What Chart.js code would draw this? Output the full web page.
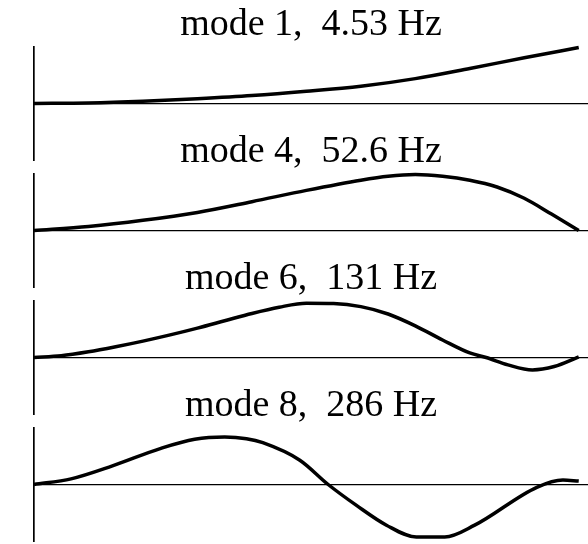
<!DOCTYPE html>
<html>
<head>
<meta charset="utf-8">
<script src="https://cdn.jsdelivr.net/npm/chart.js@4/dist/chart.umd.min.js"></script>
<style>
  html, body { margin: 0; padding: 0; background: #ffffff; }
  #wrap { position: relative; width: 588px; height: 544px; overflow: hidden; background: #ffffff; }
  .panel { position: absolute; left: 0; width: 588px; height: 162px; }
</style>
</head>
<body>
<div id="wrap">
  <canvas class="panel" id="c0" width="588" height="162" style="top:0px"></canvas>
  <canvas class="panel" id="c1" width="588" height="162" style="top:127px"></canvas>
  <canvas class="panel" id="c2" width="588" height="162" style="top:254px"></canvas>
  <canvas class="panel" id="c3" width="588" height="162" style="top:381px"></canvas>
</div>
<script>
// ---- data (normalised position along the beam, normalised mode amplitude) ----
const TITLES = ["mode 1,  4.53 Hz", "mode 4,  52.6 Hz", "mode 6,  131 Hz", "mode 8,  286 Hz"];

const xMode1 = [0, 0.1, 0.2, 0.3, 0.4, 0.5, 0.6, 0.7, 0.8, 0.9, 1.0];
const yMode1 = [0, 0.01, 0.04, 0.085, 0.14, 0.215, 0.305, 0.44, 0.62, 0.81, 0.99];

const xMode4 = [0, 0.1, 0.2, 0.3, 0.4, 0.5, 0.6, 0.65, 0.7, 0.75, 0.8, 0.85, 0.9, 0.95, 1.0];
const yMode4 = [0, 0.07, 0.18, 0.32, 0.51, 0.71, 0.89, 0.96, 0.99, 0.96, 0.89, 0.77, 0.57, 0.29, 0];

const xMode6 = [0, 0.05, 0.1, 0.15, 0.2, 0.25, 0.3, 0.35, 0.4, 0.45, 0.5, 0.55, 0.6, 0.65, 0.7, 0.75, 0.8, 0.83, 0.87, 0.915, 0.955, 1.0];
const yMode6 = [0, 0.03, 0.10, 0.19, 0.29, 0.40, 0.52, 0.65, 0.78, 0.89, 0.96, 0.955, 0.90, 0.77, 0.56, 0.31, 0.08, 0, -0.13, -0.22, -0.16, 0.01];

const xMode8 = [0, 0.068, 0.144, 0.233, 0.295, 0.35, 0.39, 0.42, 0.488, 0.54, 0.592, 0.647, 0.702, 0.754, 0.809, 0.923, 0.971, 1.0];
const yMode8 = [0, 0.10, 0.33, 0.64, 0.80, 0.84, 0.81, 0.74, 0.43, 0.0, -0.37, -0.72, -0.93, -0.93, -0.72, -0.05, 0.08, 0.06];

const X_MAX = 1.017;   // axis extends a little beyond the beam tip
const Y_LIM = 1;

const SERIES = [[xMode1, yMode1], [xMode4, yMode4], [xMode6, yMode6], [xMode8, yMode8]];

function makeChart(i) {
  const [xs, ys] = SERIES[i];
  const pts = xs.map((x, k) => ({ x: x, y: ys[k] }));
  return new Chart(document.getElementById('c' + i), {
    type: 'line',
    data: {
      datasets: [{
        data: pts,
        borderColor: '#000000',
        borderWidth: 3.5,
        pointRadius: 0,
        fill: false,
        cubicInterpolationMode: 'monotone',
        clip: false
      }]
    },
    options: {
      responsive: false,
      animation: false,
      events: [],
      layout: { padding: { left: 34, right: 0, top: 0, bottom: 2 } },
      plugins: {
        legend: { display: false },
        tooltip: { enabled: false },
        title: {
          display: true,
          text: TITLES[i],
          fullSize: false,
          align: 'center',
          color: '#000000',
          font: { family: '"Liberation Serif", "Times New Roman", serif', size: 38, weight: 'normal', lineHeight: 1.1 },
          padding: { top: 4, bottom: 1.2 }
        }
      },
      scales: {
        x: {
          type: 'linear',
          min: 0,
          max: X_MAX,
          position: { y: 0 },
          ticks: { display: false },
          grid: { display: false, drawTicks: false },
          border: { display: true, color: '#000000', width: 1.3 }
        },
        y: {
          type: 'linear',
          min: -Y_LIM,
          max: Y_LIM,
          position: 'left',
          ticks: { display: false },
          grid: { display: false, drawTicks: false },
          border: { display: true, color: '#000000', width: 1.7 }
        }
      }
    }
  });
}

for (let i = 0; i < 4; i++) makeChart(i);
</script>
</body>
</html>
